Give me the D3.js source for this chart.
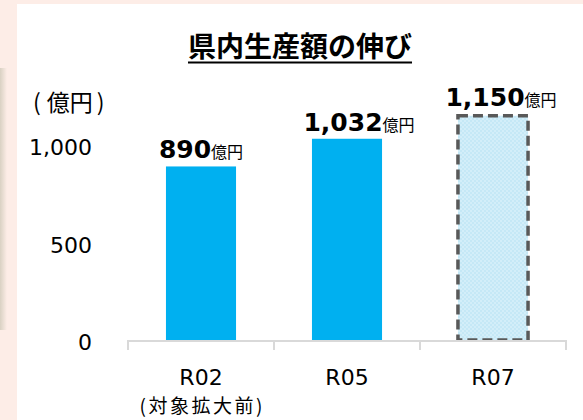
<!DOCTYPE html>
<meta charset="utf-8">
<style>
    body { margin: 0; }
    svg { display: block; }
    .ytick text { font: 22px 'DejaVu Sans', Verdana, sans-serif; fill: #000; }
    .xlab { font: 22px 'DejaVu Sans', Verdana, sans-serif; fill: #000; }
    .xsub { font: 19px 'Noto Sans CJK JP', sans-serif; fill: #000; }
    .val { font-weight: bold; font-size: 25px; font-family: 'DejaVu Sans', Verdana, sans-serif; fill: #000; }
    .unit { font-weight: normal; font-size: 16px; font-family: 'Noto Sans CJK JP', sans-serif; }
</style>
<svg width="583" height="420"></svg>
<script src="https://d3js.org/d3.v7.min.js"></script>
<script>

    // data
    var categories = ["R02", "R05", "R07"];
    var subLabels = ["(対象拡大前)", "", ""];
    var values = [890, 1032, 1150];
    var estimated = [false, false, true];
    var yTicks = [0, 500, 1000];
    var unitLabel = "億円";
    var title = "県内生産額の伸び";

    // labels in the original are nudged by hand
    var labelNudge = [0, 12, 8];

    var svg = d3.select("svg");

    // page background
    svg.append("rect").attr("width", 583).attr("height", 420).attr("fill", "#fdede7");
    var defs = svg.append("defs");
    var grad = defs.append("linearGradient").attr("id", "edge");
    grad.append("stop").attr("offset", "0%").attr("stop-color", "#d9d1c3");
    grad.append("stop").attr("offset", "100%").attr("stop-color", "#fdede7");
    svg.append("rect").attr("x", 0).attr("y", 68).attr("width", 7).attr("height", 262).attr("fill", "url(#edge)");
    svg.append("rect").attr("x", 17).attr("y", 4).attr("width", 566).attr("height", 416).attr("fill", "#fff");

    // dotted fill for the forecast bar
    var pat = defs.append("pattern").attr("id", "dots")
        .attr("width", 4).attr("height", 4).attr("patternUnits", "userSpaceOnUse");
    pat.append("rect").attr("width", 4).attr("height", 4).attr("fill", "#c5e8f6");
    pat.append("rect").attr("width", 2).attr("height", 2).attr("fill", "#d3eef9");
    pat.append("rect").attr("x", 2).attr("y", 2).attr("width", 2).attr("height", 2).attr("fill", "#d3eef9");

    // title
    var t = svg.append("text")
        .attr("x", 300).attr("y", 57)
        .attr("text-anchor", "middle")
        .style("font", "bold 28px 'Noto Sans CJK JP', sans-serif")
        .text(title);
    var tw = t.node().getComputedTextLength();
    svg.append("rect").attr("x", 300 - tw / 2).attr("y", 61.5).attr("width", tw).attr("height", 2).attr("fill", "#000");

    // scales
    var x = d3.scaleBand().domain(categories).range([128, 566]).paddingInner(0.52).paddingOuter(0.26);
    var y = d3.scaleLinear().domain([0, 1200]).range([340, 106]);
    var edges = d3.scaleLinear().domain([0, categories.length]).range([128, 566]);

    // y axis labels
    var yAxis = svg.append("g").attr("class", "ytick")
        .attr("transform", "translate(92,0)")
        .call(d3.axisLeft(y).tickValues(yTicks).tickFormat(d3.format(",")).tickSize(0).tickPadding(0));
    yAxis.select(".domain").remove();
    yAxis.selectAll("text").attr("dy", "0.45em").attr("fill", "#000");

    var unitText = svg.append("text")
        .attr("x", 33).attr("y", 111)
        .style("font", "23px 'Noto Sans CJK JP', sans-serif");
    unitText.append("tspan").text("(");
    unitText.append("tspan").attr("dx", 6).text(unitLabel);
    unitText.append("tspan").attr("dx", 4).text(")");

    // bars
    svg.selectAll(".bar")
        .data(values)
        .enter().append("rect")
        .attr("class", "bar")
        .attr("x", function(d, i) { return x(categories[i]); })
        .attr("y", function(d) { return y(d); })
        .attr("width", x.bandwidth())
        .attr("height", function(d) { return y(0) - y(d); })
        .attr("fill", function(d, i) { return estimated[i] ? "url(#dots)" : "#00b0f0"; })
        .attr("stroke", function(d, i) { return estimated[i] ? "#595959" : "none"; })
        .attr("stroke-width", 3.5)
        .attr("stroke-dasharray", "10,5");

    // x axis line and category boundary ticks
    svg.append("line").attr("x1", 128).attr("x2", 566).attr("y1", 341).attr("y2", 341)
        .attr("stroke", "#d9d9d9").attr("stroke-width", 2);
    svg.selectAll(".edge")
        .data(d3.range(categories.length + 1))
        .enter().append("line")
        .attr("x1", function(d) { return edges(d); })
        .attr("x2", function(d) { return edges(d); })
        .attr("y1", 340).attr("y2", 350)
        .attr("stroke", "#d9d9d9").attr("stroke-width", 2);

    // value labels
    var val = svg.selectAll(".val")
        .data(values)
        .enter().append("text")
        .attr("class", "val")
        .attr("x", function(d, i) { return x(categories[i]) + x.bandwidth() / 2 + labelNudge[i]; })
        .attr("y", function(d, i) { return y(d) - (estimated[i] ? 10 : 8); })
        .attr("text-anchor", "middle");
    val.append("tspan").text(function(d) { return d3.format(",")(d); });
    val.append("tspan").attr("class", "unit").text(unitLabel);

    // category labels
    svg.selectAll(".xlab")
        .data(categories)
        .enter().append("text")
        .attr("class", "xlab")
        .attr("x", function(d) { return x(d) + x.bandwidth() / 2; })
        .attr("y", 385)
        .attr("text-anchor", "middle")
        .text(function(d) { return d; });

    svg.selectAll(".xsub")
        .data(subLabels.filter(function(s) { return s; }))
        .enter().append("text")
        .attr("class", "xsub")
        .attr("x", function(d) { return x(categories[subLabels.indexOf(d)]) + x.bandwidth() / 2; })
        .attr("y", 413)
        .attr("text-anchor", "middle")
        .attr("textLength", 123).attr("lengthAdjust", "spacing")
        .text(function(d) { return d; });

</script>
